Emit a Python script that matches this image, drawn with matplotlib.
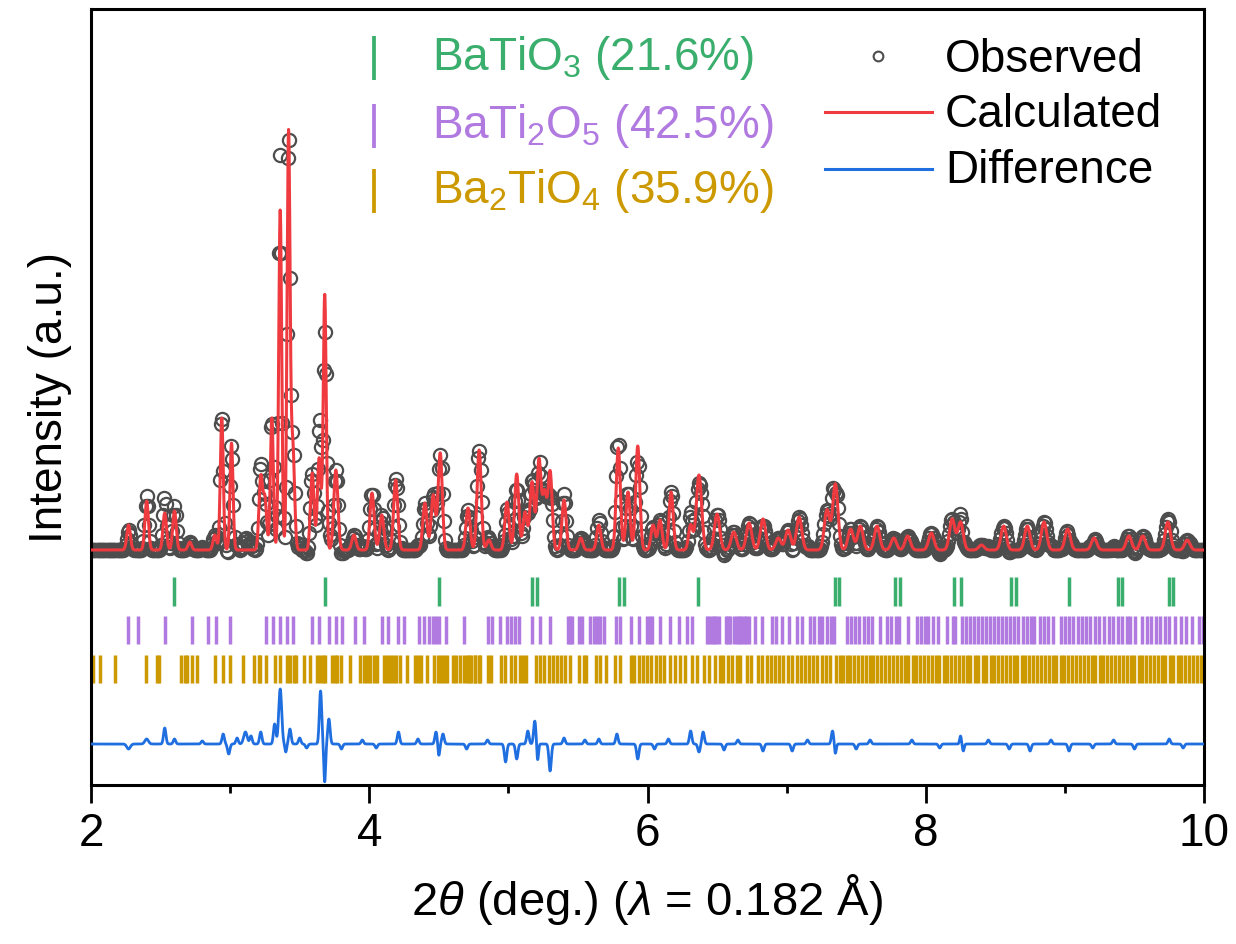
import numpy as np
import matplotlib
matplotlib.use('Agg')
import matplotlib.pyplot as plt

plt.rcParams['font.family'] = ['Liberation Sans', 'DejaVu Sans']
plt.rcParams['mathtext.fontset'] = 'custom'
plt.rcParams['mathtext.rm'] = 'Liberation Sans'
plt.rcParams['mathtext.it'] = 'Liberation Sans:italic'

# calculated profile: peak positions (deg), heights (a.u.), widths (fwhm, deg)
peak_pos = [2.27, 2.40, 2.53, 2.60, 2.71, 2.89, 2.94, 3.01, 3.22, 3.25,
            3.30, 3.36, 3.42, 3.45, 3.59, 3.64, 3.68, 3.76, 3.89, 4.02,
            4.09, 4.19, 4.40, 4.46, 4.51, 4.71, 4.79, 4.86, 4.99, 5.06,
            5.12, 5.17, 5.22, 5.26, 5.30, 5.40, 5.52, 5.65, 5.79, 5.86,
            5.93, 6.04, 6.09, 6.17, 6.31, 6.37, 6.50, 6.62, 6.73, 6.83,
            6.94, 7.01, 7.09, 7.29, 7.35, 7.46, 7.53, 7.65, 7.77, 7.87,
            8.04, 8.19, 8.25, 8.40, 8.56, 8.73, 8.85, 9.02, 9.21, 9.46,
            9.56, 9.74, 9.88]
peak_height = [25, 49, 37, 39, 8, 15, 132, 107, 72, 50,
               132, 340, 414, 105, 77, 92, 255, 80, 15, 57,
               35, 70, 47, 55, 97, 42, 100, 10, 48, 76,
               38, 68, 90, 56, 78, 50, 12, 25, 102, 58,
               104, 25, 30, 58, 25, 75, 36, 18, 27, 31,
               12, 20, 33, 40, 66, 21, 24, 24, 12, 14,
               17, 31, 28, 5, 24, 24, 28, 21, 12, 14,
               14, 28, 10]
peak_fwhm = [0.03] * 6 + [0.025] * 2 + [0.03] * 2 + [0.025] * 3 + [0.03] * 3 + [0.025] \
    + [0.035] * 28 + [0.045] * 28

# difference curve features: positions, amplitudes, widths
diff_pos = [2.27, 2.40, 2.53, 2.60, 2.80, 2.95, 2.99, 3.05, 3.11, 3.15,
            3.22, 3.32, 3.36, 3.40, 3.43, 3.50, 3.55, 3.65, 3.68, 3.71,
            3.80, 3.95, 4.05, 4.21, 4.35, 4.48, 4.50, 4.53, 4.70, 4.85,
            4.98, 5.06, 5.14, 5.19, 5.21, 5.30, 5.40, 5.55, 5.65, 5.78,
            5.93, 6.05, 6.15, 6.31, 6.37, 6.40, 6.55, 6.65, 6.83, 7.04,
            7.15, 7.33, 7.35, 7.50, 7.60, 7.90, 8.10, 8.25, 8.27, 8.45,
            8.60, 8.75, 8.90, 9.03, 9.20, 9.35, 9.50, 9.75, 9.85]
diff_amp = [-5, 5, 16, 5, 3, 10, -10, 6, 12, 8,
            12, 20, 55, -8, 15, 6, -4, 53, -38, 25,
            -5, 4, -4, 12, 5, 12, -12, 10, -5, 4,
            -18, -15, 13, 23, -17, -27, 6, 4, 5, 10,
            -15, -5, 5, 13, -8, 12, -6, 4, -7, -7,
            4, 13, -10, -5, 4, 4, -4, 8, -7, 4,
            -5, -7, 4, -7, -4, 4, -5, 5, -4]
diff_fwhm = [0.03, 0.03, 0.02, 0.02, 0.02, 0.02, 0.02, 0.02, 0.03, 0.02,
             0.02, 0.02, 0.025, 0.015, 0.02, 0.02, 0.02, 0.02, 0.015, 0.02,
             0.02, 0.02, 0.02, 0.02, 0.02, 0.02, 0.015, 0.02, 0.02, 0.02,
             0.02, 0.02, 0.02, 0.02, 0.015, 0.02, 0.02, 0.02, 0.02, 0.02,
             0.02, 0.02, 0.02, 0.02, 0.02, 0.02, 0.02, 0.02, 0.02, 0.02,
             0.02, 0.02, 0.015, 0.02, 0.02, 0.02, 0.02, 0.015, 0.015, 0.02,
             0.02, 0.02, 0.02, 0.02, 0.02, 0.02, 0.02, 0.02, 0.02]
diff_offset = -194

# Bragg reflection positions
batio3_pos = [2.597, 3.679, 4.499, 5.173, 5.206, 5.794, 5.830, 6.365, 7.345, 7.374,
              7.777, 7.813, 8.20, 8.25, 8.61, 8.65, 9.03, 9.38, 9.41, 9.75, 9.78]
bati2o5_pos = [2.268, 2.336, 2.532, 2.724, 2.840, 2.899, 3.000, 3.259, 3.307, 3.360,
               3.412, 3.455, 3.592, 3.640, 3.714, 3.763, 3.804, 3.899, 3.964, 4.091,
               4.132, 4.206, 4.247, 4.355, 4.391, 4.427, 4.458, 4.482, 4.499, 4.554,
               4.678, 4.851, 4.883, 4.937, 4.991, 5.019, 5.050, 5.074, 5.170, 5.230,
               5.302, 5.427, 5.445, 5.458, 5.506, 5.530, 5.590, 5.614, 5.638, 5.662,
               5.686, 5.777, 5.801, 5.878, 5.937, 5.998, 6.015, 6.034, 6.088, 6.160,
               6.225, 6.286, 6.322, 6.429, 6.445, 6.461, 6.477, 6.495, 6.513, 6.561,
               6.577, 6.592, 6.621, 6.640, 6.657, 6.675, 6.693, 6.710, 6.729, 6.770,
               6.825, 6.897, 6.921, 6.969, 7.017, 7.077, 7.113, 7.168, 7.196, 7.232,
               7.257, 7.293, 7.317, 7.340, 7.433, 7.462, 7.491, 7.523, 7.554, 7.583,
               7.613, 7.668, 7.724, 7.753, 7.789, 7.809, 7.869, 7.935, 7.966, 7.995,
               8.015, 8.051, 8.087, 8.153, 8.194, 8.213, 8.262, 8.291, 8.317, 8.346,
               8.375, 8.402, 8.431, 8.460, 8.492, 8.521, 8.547, 8.576, 8.605, 8.637,
               8.666, 8.698, 8.727, 8.758, 8.777, 8.819, 8.848, 8.879, 8.915, 8.969,
               9.000, 9.032, 9.061, 9.092, 9.121, 9.153, 9.177, 9.213, 9.243, 9.279,
               9.315, 9.347, 9.381, 9.412, 9.444, 9.468, 9.504, 9.557, 9.589, 9.618,
               9.654, 9.683, 9.722, 9.751, 9.792, 9.836, 9.872, 9.913, 9.962, 9.993]
ba2tio4_pos = [2.017, 2.065, 2.173, 2.396, 2.472, 2.489, 2.648, 2.676, 2.693, 2.724,
               2.765, 2.892, 2.947, 3.000, 3.096, 3.175, 3.204, 3.216, 3.259, 3.324,
               3.360, 3.408, 3.432, 3.456, 3.475, 3.528, 3.571, 3.624, 3.643, 3.667,
               3.683, 3.731, 3.755, 3.767, 3.796, 3.859, 3.935, 3.959, 3.983, 4.007,
               4.031, 4.055, 4.103, 4.127, 4.146, 4.170, 4.194, 4.218, 4.271, 4.326,
               4.350, 4.374, 4.415, 4.468, 4.492, 4.516, 4.540, 4.559, 4.602, 4.626,
               4.655, 4.679, 4.703, 4.731, 4.762, 4.787, 4.715, 4.763, 4.794, 4.851,
               4.875, 4.947, 4.978, 5.019, 5.050, 5.082, 5.106, 5.125, 5.201, 5.230,
               5.259, 5.290, 5.321, 5.350, 5.379, 5.410, 5.441, 5.506, 5.542, 5.561,
               5.631, 5.662, 5.705, 5.763, 5.801, 5.878, 5.906, 5.938, 5.969, 5.998,
               6.026, 6.058, 6.089, 6.117, 6.165, 6.201, 6.237, 6.273, 6.321, 6.357,
               6.405, 6.441, 6.484, 6.520, 6.544, 6.580, 6.609, 6.640, 6.664, 6.712,
               6.746, 6.796, 6.825, 6.856, 6.885, 6.916, 6.945, 6.976, 7.012, 7.041,
               7.072, 7.101, 7.132, 7.160, 7.192, 7.220, 7.252, 7.280, 7.309, 7.352,
               7.384, 7.402, 7.431, 7.455, 7.486, 7.511, 7.542, 7.567, 7.598, 7.623,
               7.650, 7.681, 7.707, 7.737, 7.762, 7.793, 7.819, 7.850, 7.874, 7.905,
               7.931, 7.961, 7.986, 8.017, 8.043, 8.074, 8.098, 8.129, 8.155, 8.185,
               8.210, 8.241, 8.267, 8.296, 8.318, 8.352, 8.379, 8.409, 8.435, 8.466,
               8.491, 8.521, 8.547, 8.578, 8.603, 8.633, 8.659, 8.690, 8.715, 8.745,
               8.771, 8.802, 8.827, 8.857, 8.883, 8.914, 8.939, 8.970, 8.995, 9.026,
               9.051, 9.082, 9.107, 9.138, 9.163, 9.194, 9.219, 9.250, 9.275, 9.306,
               9.331, 9.362, 9.387, 9.418, 9.443, 9.474, 9.499, 9.530, 9.555, 9.586,
               9.611, 9.642, 9.667, 9.698, 9.723, 9.754, 9.779, 9.810, 9.835, 9.866,
               9.891, 9.922, 9.947, 9.978, 9.998]

phase_labels = [r'BaTiO$_3$ (21.6%)', r'BaTi$_2$O$_5$ (42.5%)', r'Ba$_2$TiO$_4$ (35.9%)']
phase_colors = ['#3aae6c', '#b07ae0', '#cc9900']
legend_labels = ['Observed', 'Calculated', 'Difference']

red = '#ef3b3f'
blue = '#1f6fe0'
grey = '#4d4d4d'


def profile(x, pos, height, fwhm):
    y = np.zeros_like(x)
    for p, h, w in zip(pos, height, fwhm):
        s = w / 2.3548
        y += h * np.exp(-0.5 * ((x - p) / s) ** 2)
    return y


x_fine = np.linspace(2, 10, 4001)
x_obs = np.arange(2.0, 10.0001, 0.008)
calc = profile(x_fine, peak_pos, peak_height, peak_fwhm)
obs = profile(x_obs, peak_pos, peak_height, peak_fwhm) + profile(x_obs, diff_pos, diff_amp, diff_fwhm)
diff = profile(x_fine, diff_pos, diff_amp, diff_fwhm) + diff_offset

fig = plt.figure(figsize=(12.36, 9.45), dpi=100)
ax = fig.add_axes([91 / 1236, 1 - 786 / 945, 1113 / 1236, 776 / 945])

ax.plot(x_obs, obs, 'o', mfc='none', mec=grey, ms=9.5, mew=1.6, zorder=2)
ax.plot(x_fine, calc, color=red, lw=2.2, zorder=3)
ax.plot(x_fine, diff, color=blue, lw=2.0, zorder=3)

rows = [(-56, -27), (-94, -66), (-133, -105)]
for pos, (y0, y1), c in zip([batio3_pos, bati2o5_pos, ba2tio4_pos], rows, phase_colors):
    ax.vlines(pos, y0, y1, colors=c, lw=2.5)

ax.set_xlim(2, 10)
ax.set_ylim(-235, 541)
ax.set_yticks([])
ax.set_xticks([2, 4, 6, 8, 10])
ax.set_xticks([3, 5, 7, 9], minor=True)
ax.tick_params(axis='x', which='major', length=13, width=2, labelsize=33, pad=6)
ax.tick_params(axis='x', which='minor', length=6, width=2)
for sp in ax.spines.values():
    sp.set_linewidth(2.2)

ax.set_xlabel(r'2$\theta$ (deg.) ($\lambda$ = 0.182 Å)', fontsize=34, labelpad=11)
ax.set_ylabel('Intensity (a.u.)', fontsize=33, labelpad=14)


def axfrac(px, py):
    return (px - 91) / 1113, (786 - py) / 776


# phase labels
for lab, c, py in zip(phase_labels, phase_colors, [70, 138, 203]):
    bx, by = axfrac(374, py)
    ax.text(bx, by, '|', color=c, fontsize=33, transform=ax.transAxes, ha='center', va='baseline')
    tx, ty = axfrac(432, py)
    ax.text(tx, ty, lab, color=c, fontsize=33, transform=ax.transAxes, ha='left', va='baseline')

# series legend
mx, my = axfrac(878, 57)
ax.plot([mx], [my], 'o', mfc='none', mec=grey, ms=7, mew=1.5, transform=ax.transAxes, clip_on=False)
for c, py in zip([red, blue], [113, 170]):
    x0, y0 = axfrac(825, py)
    x1, _ = axfrac(932, py)
    ax.plot([x0, x1], [y0, y0], color=c, lw=2.2, transform=ax.transAxes)
for lab, py in zip(legend_labels, [72, 127, 183]):
    tx, ty = axfrac(945, py)
    ax.text(tx, ty, lab, color='black', fontsize=33, transform=ax.transAxes, ha='left', va='baseline')

fig.savefig('out.png', dpi=100)
